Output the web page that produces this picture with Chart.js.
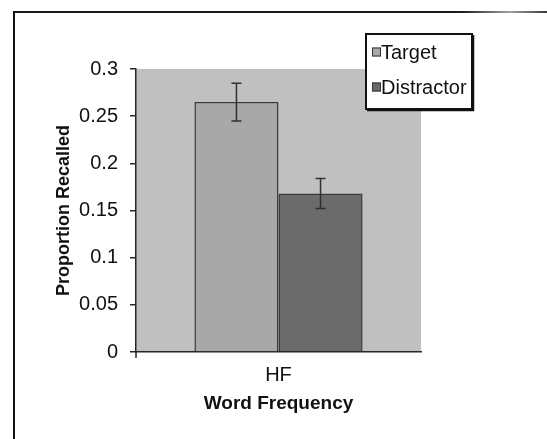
<!DOCTYPE html>
<html>
<head>
<meta charset="utf-8">
<script src="https://cdn.jsdelivr.net/npm/chart.js@4.4.1/dist/chart.umd.min.js"></script>
<style>
  html, body { margin: 0; padding: 0; background: #fff; }
  #wrap { position: relative; width: 547px; height: 439px; overflow: hidden; }
  canvas { position: absolute; left: 0; top: 0; }
  #frameTop { position: absolute; left: 13px; top: 11px; width: 534px; height: 2px;
    background: linear-gradient(to right, #1c1c1c 0%, #1c1c1c 84%, #a0a0a0 93%, #3a3a3a 100%); }
  #frameLeft { position: absolute; left: 13px; top: 11px; width: 2px; height: 428px; background: #111; }
</style>
</head>
<body>
<div id="wrap">
  <canvas id="chart" width="547" height="439"></canvas>
  <div id="frameTop"></div>
  <div id="frameLeft"></div>
</div>
<script>
// Recall data for high-frequency words
const categories = ['HF'];
const seriesNames = ['Target', 'Distractor'];
const targetValues = [0.265];
const distractorValues = [0.168];
const targetErrors = [0.020];
const distractorErrors = [0.016];
const yTickValues = [0, 0.05, 0.1, 0.15, 0.2, 0.25, 0.3];
const yTickLabels = ['0', '0.05', '0.1', '0.15', '0.2', '0.25', '0.3'];

const FONT = '"Liberation Sans", Arial, Helvetica, sans-serif';
const INK = '#262626';
const TEXT = '#111';

// Grey plot-area fill behind the bars
const plotBackground = {
  id: 'plotBackground',
  beforeDraw(chart) {
    const { ctx, chartArea: a } = chart;
    ctx.save();
    ctx.fillStyle = '#c0c0c0';
    ctx.fillRect(a.left, a.top, a.right - a.left, a.bottom - a.top);
    ctx.restore();
  }
};

// Error bars (value ± error) drawn through the y scale
const errorBars = {
  id: 'errorBars',
  afterDatasetsDraw(chart) {
    const { ctx } = chart;
    const y = chart.scales.y;
    ctx.save();
    ctx.strokeStyle = '#303030';
    ctx.lineWidth = 1.5;
    chart.data.datasets.forEach((ds, di) => {
      const meta = chart.getDatasetMeta(di);
      meta.data.forEach((bar, i) => {
        const v = ds.data[i], e = ds.errors[i];
        const yHi = y.getPixelForValue(v + e);
        const yLo = y.getPixelForValue(v - e);
        const cap = 5;
        ctx.beginPath();
        ctx.moveTo(bar.x, yHi); ctx.lineTo(bar.x, yLo);
        ctx.moveTo(bar.x - cap, yHi); ctx.lineTo(bar.x + cap, yHi);
        ctx.moveTo(bar.x - cap, yLo); ctx.lineTo(bar.x + cap, yLo);
        ctx.stroke();
      });
    });
    ctx.restore();
  }
};

// Short stub of the value axis below the category axis
const axisStub = {
  id: 'axisStub',
  afterDraw(chart) {
    const { ctx, chartArea: a } = chart;
    ctx.save();
    ctx.strokeStyle = INK;
    ctx.lineWidth = 1.5;
    ctx.beginPath();
    ctx.moveTo(a.left, a.bottom);
    ctx.lineTo(a.left, a.bottom + 6);
    ctx.stroke();
    ctx.restore();
  }
};

// Boxed legend at the top right
const boxLegend = {
  id: 'boxLegend',
  afterDraw(chart, args, opts) {
    const { ctx } = chart;
    const { x, y, w, h } = opts;
    ctx.save();
    ctx.fillStyle = '#fff';
    ctx.fillRect(x, y, w, h);
    ctx.strokeStyle = '#111';
    ctx.lineWidth = 2;
    ctx.strokeRect(x, y, w, h);
    ctx.lineWidth = 1.5;
    ctx.beginPath();
    ctx.moveTo(x + w + 1.5, y + 1); ctx.lineTo(x + w + 1.5, y + h + 1.5);
    ctx.lineTo(x + 1, y + h + 1.5);
    ctx.stroke();
    ctx.font = '20px ' + FONT;
    ctx.textBaseline = 'middle';
    ctx.textAlign = 'left';
    chart.data.datasets.forEach((ds, i) => {
      const cy = y + 18 + i * 35;
      ctx.fillStyle = ds.backgroundColor;
      ctx.fillRect(x + 6, cy - 4.5, 9, 9);
      ctx.strokeStyle = '#333';
      ctx.lineWidth = 1;
      ctx.strokeRect(x + 6.5, cy - 4, 8, 8);
      ctx.fillStyle = TEXT;
      ctx.fillText(ds.label, x + 15, cy + 1);
    });
    ctx.restore();
  }
};

new Chart(document.getElementById('chart'), {
  type: 'bar',
  data: {
    labels: categories,
    datasets: [
      { label: seriesNames[0], data: targetValues, errors: targetErrors,
        backgroundColor: '#a8a8a8', borderColor: '#3a3a3a', borderWidth: 1.5 },
      { label: seriesNames[1], data: distractorValues, errors: distractorErrors,
        backgroundColor: '#6b6b6b', borderColor: '#3a3a3a', borderWidth: 1.5 }
    ]
  },
  options: {
    responsive: false,
    animation: false,
    devicePixelRatio: 1,
    layout: { padding: { left: 0, top: 69, right: 126, bottom: 0 } },
    datasets: { bar: { categoryPercentage: 0.59, barPercentage: 1.0 } },
    plugins: {
      legend: { display: false },
      tooltip: { enabled: false },
      boxLegend: { x: 366, y: 34, w: 106, h: 75 }
    },
    scales: {
      x: {
        grid: { display: false },
        border: { display: true, color: INK, width: 1.5 },
        ticks: { color: TEXT, font: { family: FONT, size: 20 }, padding: 3 },
        title: { display: true, text: 'Word Frequency', color: TEXT,
                 font: { family: FONT, size: 19, weight: 'bold' }, padding: { bottom: 24 } },
        afterFit(s) { s.height = 87; }
      },
      y: {
        min: 0, max: 0.3,
        afterBuildTicks(s) { s.ticks = yTickValues.map(v => ({ value: v })); },
        grid: { drawOnChartArea: false, drawTicks: true, tickLength: 6, color: INK, lineWidth: 1.5 },
        border: { display: true, color: INK, width: 1.5 },
        ticks: { color: TEXT, font: { family: FONT, size: 20 }, padding: 12,
                 callback: (v, i) => yTickLabels[i] },
        title: { display: true, text: 'Proportion Recalled', color: TEXT,
                 font: { family: FONT, size: 18, weight: 'bold' }, padding: { top: 53 } },
        afterFit(s) { s.width = 136; }
      }
    }
  },
  plugins: [plotBackground, errorBars, axisStub, boxLegend]
});
</script>
</body>
</html>
